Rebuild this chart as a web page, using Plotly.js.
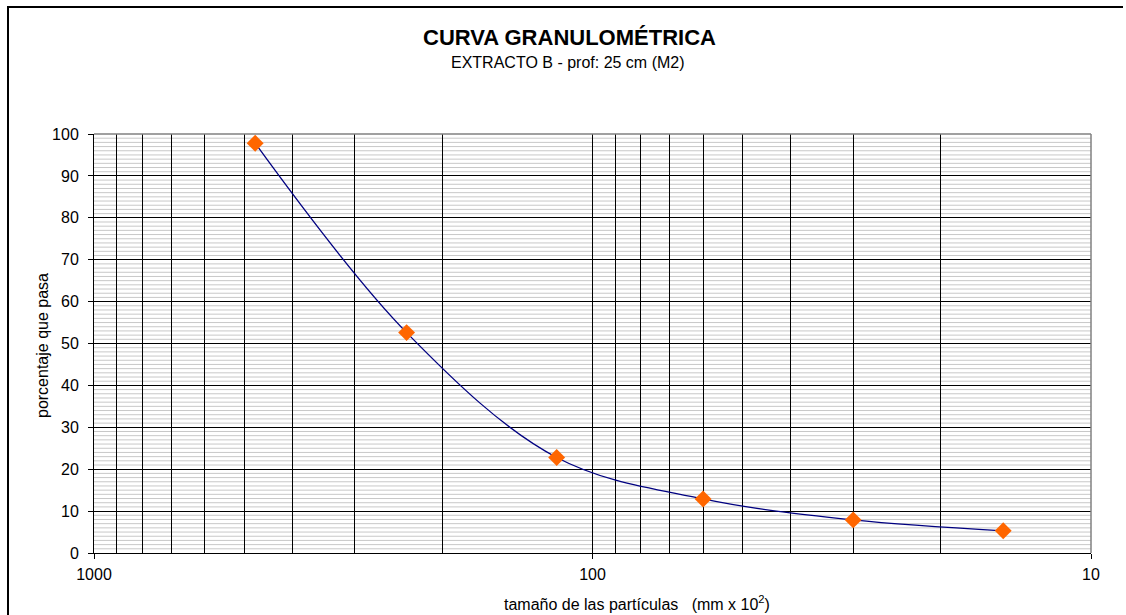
<!DOCTYPE html>
<html>
<head>
<meta charset="utf-8">
<script src="https://cdn.plot.ly/plotly-3.0.1.min.js"></script>
<style>
html,body{margin:0;padding:0;background:#fff;overflow:hidden;}
#wrap{position:relative;width:1126px;height:615px;overflow:hidden;}
#chart{position:absolute;left:0;top:0;width:1126px;height:615px;}
#frame{position:absolute;left:7px;top:6px;width:1114px;height:700px;border-left:2px solid #000;border-top:2px solid #000;pointer-events:none;}
</style>
</head>
<body>
<div id="wrap"><div id="chart"></div><div id="frame"></div></div>
<script>
// ---- data ----
const particleSize = [475, 236, 118, 60, 30, 15];      // mm x 10^2
const percentPassing = [97.8, 52.6, 22.8, 12.9, 7.9, 5.3];
const xLabelVals = [1000, 100, 10];
const xGridVals = [1000, 900, 800, 700, 600, 500, 400, 300, 200, 100, 90, 80, 70, 60, 50, 40, 30, 20, 10];
const xGridText = ['1000', '', '', '', '', '', '', '', '', '100', '', '', '', '', '', '', '', '', '10'];
const titleText = 'CURVA GRANULOMÉTRICA';
const subtitleText = 'EXTRACTO B - prof: 25 cm (M2)';
const xTitleText = 'tamaño de las partículas\u00A0\u00A0\u00A0(mm x 10<sup>2</sup>)';
const yTitleText = 'porcentaje que pasa';

const W = 1126, H = 615;
const M = {l: 94, r: 35, t: 134, b: 62};
const pw = W - M.l - M.r, ph = H - M.t - M.b;
const px = x => (x - M.l) / pw;
const py = y => (H - M.b - y) / ph;
const FONT = '"Liberation Sans", Arial, sans-serif';

const curve = {
  x: particleSize,
  y: percentPassing,
  type: 'scatter',
  mode: 'lines+markers',
  line: {color: '#000080', width: 1.3, shape: 'spline', smoothing: 1},
  marker: {symbol: 'diamond', size: 13, color: '#FF6600'},
  hoverinfo: 'skip'
};

// light horizontal minor grid (every 1 %), placed beneath the axis grid layer
const minorH = [];
for (let v = 1; v < 100; v++) {
  if (v % 10 === 0) continue;
  minorH.push({type: 'line', layer: 'below', xref: 'paper', yref: 'y', x0: 0, x1: 1, y0: v, y1: v,
               line: {color: '#c8c8c8', width: 1}});
}

const layout = {
  width: W, height: H,
  margin: M,
  paper_bgcolor: 'rgba(0,0,0,0)',
  plot_bgcolor: '#fff',
  showlegend: false,
  hovermode: false,
  font: {family: FONT, color: '#000', size: 16},
  xaxis: {
    type: 'log',
    range: [3, 1],
    tickmode: 'array',
    tickvals: xGridVals,
    ticktext: xGridText,
    ticks: '',
    ticklabelstandoff: 7,
    showgrid: true, gridcolor: '#000', gridwidth: 1,
    minor: {tickmode: 'array', tickvals: xLabelVals, ticks: 'outside', ticklen: 5, tickcolor: '#000', tickwidth: 1, showgrid: false},
    showline: true, linecolor: '#000', linewidth: 1,
    zeroline: false,
    tickfont: {size: 16, family: FONT}
  },
  yaxis: {
    range: [0, 100],
    dtick: 10,
    ticks: 'outside', ticklen: 5, tickcolor: '#000',
    ticklabelstandoff: 6,
    showgrid: true, gridcolor: '#000', gridwidth: 1,
    showline: true, linecolor: '#000', linewidth: 1,
    zeroline: false,
    tickfont: {size: 16, family: FONT}
  },
  annotations: [
    {text: '<b>' + titleText + '</b>', xref: 'paper', yref: 'paper', x: px(569), y: py(38), xanchor: 'center', yanchor: 'middle', showarrow: false, font: {size: 22, family: FONT}},
    {text: subtitleText, xref: 'paper', yref: 'paper', x: px(568), y: py(62), xanchor: 'center', yanchor: 'middle', showarrow: false, font: {size: 16, family: FONT}},
    {text: xTitleText, xref: 'paper', yref: 'paper', x: px(637), y: py(603), xanchor: 'center', yanchor: 'middle', showarrow: false, font: {size: 16, family: FONT}},
    {text: yTitleText, xref: 'paper', yref: 'paper', x: px(42), y: py(346), xanchor: 'center', yanchor: 'middle', textangle: -90, showarrow: false, font: {size: 16, family: FONT}}
  ],
  shapes: minorH.concat([
    // plot area top/right edges (gray)
    {type: 'line', xref: 'paper', yref: 'paper', x0: 0, x1: 1, y0: 1, y1: 1, line: {color: '#808080', width: 1.5}},
    {type: 'line', xref: 'paper', yref: 'paper', x0: 1, x1: 1, y0: 0, y1: 1, line: {color: '#808080', width: 1.5}}
  ])
};

Plotly.newPlot('chart', [curve], layout, {displayModeBar: false, staticPlot: true});
</script>
</body>
</html>
